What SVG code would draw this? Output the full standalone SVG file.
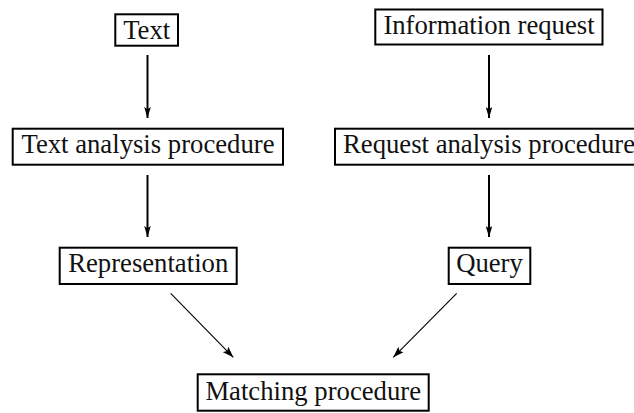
<svg xmlns="http://www.w3.org/2000/svg" width="634" height="413" viewBox="0 0 634 413">
<style>
.box{fill:#fff;stroke:#000;stroke-width:2}
.lbl{font-family:"Liberation Serif","DejaVu Serif",serif;font-size:26.7px;fill:#111;text-anchor:middle}
.v{stroke:#000;stroke-width:2;fill:none;marker-end:url(#hv)}
.d{stroke:#000;stroke-width:1.1;fill:none;marker-end:url(#hd)}
</style>
<defs>
<marker id="hv" viewBox="0 0 10 6" refX="10" refY="3" markerWidth="11" markerHeight="6.6" markerUnits="userSpaceOnUse" orient="auto">
<path d="M0,0 L10,3 L0,6 L2,3 z" fill="#000"/>
</marker>
<marker id="hd" viewBox="0 0 10 7" refX="10" refY="3.5" markerWidth="11" markerHeight="7.7" markerUnits="userSpaceOnUse" orient="auto">
<path d="M0,0 L10,3.5 L0,7 L2,3.5 z" fill="#000"/>
</marker>
</defs>
<rect width="634" height="413" fill="#fff"/>
<g id="connectors">
<line class="v" x1="147.5" y1="55" x2="147.5" y2="118"/>
<line class="v" x1="147.5" y1="175" x2="147.5" y2="237"/>
<line class="v" x1="489" y1="55" x2="489" y2="118"/>
<line class="v" x1="489" y1="175" x2="489" y2="237"/>
<line class="d" x1="170.7" y1="293.3" x2="233.3" y2="357.3"/>
<line class="d" x1="456.7" y1="293.3" x2="393.3" y2="357.3"/>
</g>
<g id="text">
<rect class="box" x="115.3" y="14.3" width="62.7" height="31.4"/>
<text class="lbl" x="146.7" y="39">Text</text>
</g>
<g id="information-request">
<rect class="box" x="375.3" y="9.5" width="227.2" height="35"/>
<text class="lbl" x="489" y="33.5">Information request</text>
</g>
<g id="text-analysis-procedure">
<rect class="box" x="12.7" y="128.7" width="270.3" height="36"/>
<text class="lbl" x="148" y="153.3">Text analysis procedure</text>
</g>
<g id="request-analysis-procedure">
<rect class="box" x="335" y="128.7" width="308" height="36"/>
<text class="lbl" x="489" y="153.3">Request analysis procedure</text>
</g>
<g id="representation">
<rect class="box" x="59.7" y="247.7" width="177" height="36.3"/>
<text class="lbl" x="148.2" y="271.7">Representation</text>
</g>
<g id="query">
<rect class="box" x="448.7" y="247.7" width="81.6" height="36.3"/>
<text class="lbl" x="489.5" y="271.7">Query</text>
</g>
<g id="matching-procedure">
<rect class="box" x="197.7" y="374.3" width="231" height="36.4"/>
<text class="lbl" x="313.2" y="400">Matching procedure</text>
</g>
</svg>
